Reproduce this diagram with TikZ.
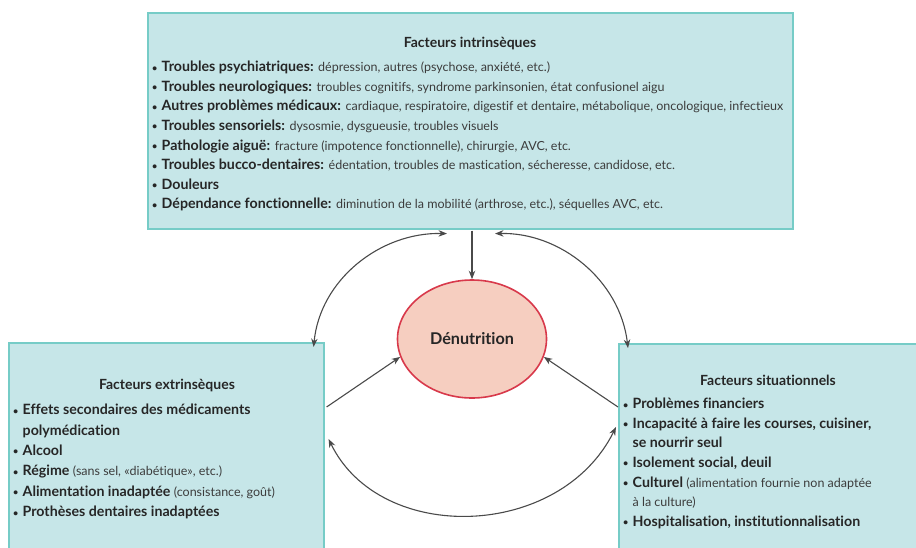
\documentclass[tikz,border=0pt]{standalone}
\usepackage{fontspec}
\setmainfont{Lato}[Ligatures=NoCommon]
\usetikzlibrary{arrows.meta,calc,shapes.geometric}
\definecolor{boxfill}{HTML}{C6E6E8}
\definecolor{boxline}{HTML}{76CCC7}
\definecolor{elfill}{HTML}{F6CEC0}
\definecolor{elline}{HTML}{D8394B}
\definecolor{txt}{HTML}{262626}
\definecolor{desc}{HTML}{3C3C3C}
\definecolor{arr}{HTML}{4A4A4A}
\newcommand\bul{\makebox[9.5pt][l]{\raisebox{0.6pt}{\fontsize{9}{9}\selectfont•}}}
\newcommand\ind{\hspace*{9.5pt}}
\newcommand\dsc[1]{{\fontsize{12.5}{19.6}\selectfont\mdseries\color{desc}#1}}
\begin{document}
\begin{tikzpicture}[x=1pt,y=1pt,
  box/.style={draw=boxline, line width=1.6pt, fill=boxfill, inner sep=0pt, anchor=north west},
  ttl/.style={anchor=base, text=txt, font=\bfseries\fontsize{14}{16}\selectfont},
  lst/.style={anchor=north west, align=left, inner sep=0pt, text=txt, font=\bfseries\fontsize{14.2}{19.6}\selectfont},
  arw/.style={draw=arr, line width=1.1pt, -{Stealth[length=8.5pt,width=6.5pt]}},
  dbl/.style={draw=arr, line width=1.1pt, {Stealth[length=8.5pt,width=6.5pt]}-{Stealth[length=8.5pt,width=6.5pt]}}]
\useasboundingbox (0,0) rectangle (916,-547);
\clip (0,0) rectangle (916,-547);
\fill[white] (0,0) rectangle (916,-547);
\node[box, minimum width=645pt, minimum height=216pt] (top) at (147,-12) {};
\node[box, minimum width=315pt, minimum height=230pt] (lb) at (8,-342) {};
\node[box, minimum width=320pt, minimum height=230pt] (rb) at (618,-343) {};
\node[ellipse, draw=elline, line width=1.6pt, fill=elfill, inner sep=0pt, minimum width=149pt, minimum height=118pt, text=txt, font=\bfseries\fontsize{16.2}{18}\selectfont] (den) at (472,-339) {Dénutrition};

\node[ttl] (t1) at (470,-47) {Facteurs intrinsèques};
\node[lst] (l1) at (152,-61) {\bul Troubles psychiatriques: \dsc{dépression, autres (psychose, anxiété, etc.)}\\
\bul Troubles neurologiques: \dsc{troubles cognitifs, syndrome parkinsonien, état confusionel aigu}\\
\bul Autres problèmes médicaux: \dsc{cardiaque, respiratoire, digestif et dentaire, métabolique, oncologique, infectieux}\\
\bul Troubles sensoriels: \dsc{dysosmie, dysgueusie, troubles visuels}\\
\bul Pathologie aiguë: \dsc{fracture (impotence fonctionnelle), chirurgie, AVC, etc.}\\
\bul Troubles bucco-dentaires: \dsc{édentation, troubles de mastication, sécheresse, candidose, etc.}\\
\bul Douleurs\\
\bul Dépendance fonctionnelle: \dsc{diminution de la mobilité (arthrose, etc.), séquelles AVC, etc.}};

\node[ttl] (t2) at (167,-389) {Facteurs extrinsèques};
\node[lst, font=\bfseries\fontsize{14.2}{20.4}\selectfont] (l2) at (13,-404) {\bul Effets secondaires des médicaments\\
\ind polymédication\\
\bul Alcool\\
\bul Régime \dsc{(sans sel, «diabétique», etc.)}\\
\bul Alimentation inadaptée \dsc{(consistance, goût)}\\
\bul Prothèses dentaires inadaptées};

\node[ttl] (t3) at (768,-385) {Facteurs situationnels};
\node[lst] (l3) at (623,-398) {\bul Problèmes financiers\\
\bul Incapacité à faire les courses, cuisiner,\\
\ind se nourrir seul\\
\bul Isolement social, deuil\\
\bul Culturel \dsc{(alimentation fournie non adaptée}\\
\ind\dsc{à la culture)}\\
\bul Hospitalisation, institutionnalisation};

\coordinate (a1) at ($(top.south west)+(300,-4)$);
\coordinate (a2) at ($(lb.north east)+(-11,-5)$);
\coordinate (a3) at ($(top.south west)+(348,-4)$);
\coordinate (a4) at ($(rb.north west)+(10,-5)$);
\coordinate (b1) at ($(lb.north east)+(2,-65)$);
\coordinate (b2) at ($(rb.north west)+(0,-64)$);
\coordinate (c1) at ($(lb.north east)+(4,-97)$);
\coordinate (c2) at ($(rb.north west)+(-2,-84)$);
\coordinate (v0) at ($(top.south -| den.north)+(0,-1)$);

\draw[arw] (v0) -- (den.north);
\draw[dbl] (a2) .. controls (320,-280) and (380,-232) .. (a1);
\draw[dbl] (a3) .. controls (560,-232) and (620,-280) .. (a4);
\draw[arw] (b1) -- (den.194);
\draw[arw] (b2) -- (den.346);
\draw[dbl] (c1) .. controls (380,-545) and (560,-540) .. (c2);
\end{tikzpicture}
\end{document}
